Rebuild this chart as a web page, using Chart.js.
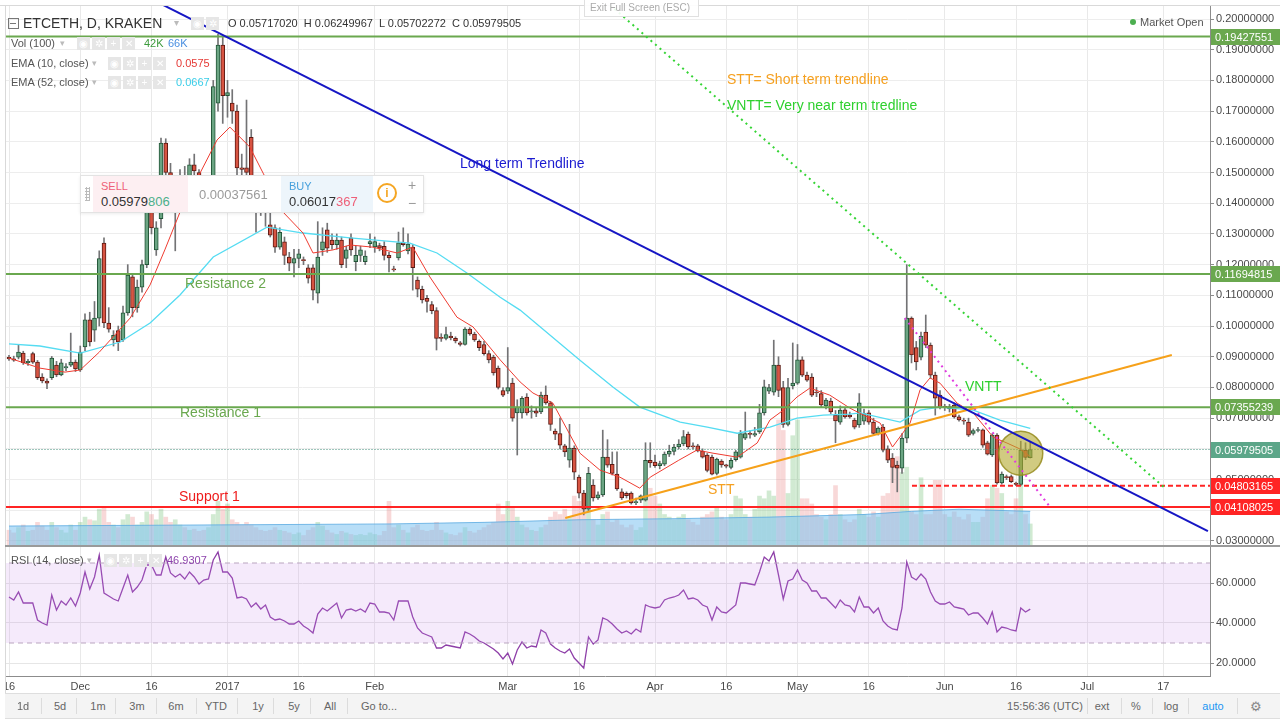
<!DOCTYPE html>
<html>
<head>
<meta charset="utf-8">
<title>ETCETH, D, KRAKEN</title>
<script src="https://cdn.jsdelivr.net/npm/chart.js@4.4.1/dist/chart.umd.min.js"></script>
<style>
  html, body { margin: 0; padding: 0; }
  body { width: 1280px; height: 720px; overflow: hidden; background: #fff; position: relative;
         font-family: "Liberation Sans", Arial, sans-serif; color: #4a4a4a; }
  canvas { position: absolute; left: 0; }
  #priceChart { top: 0; }
  #rsiChart { top: 547px; }
  .t { position: absolute; white-space: nowrap; line-height: 1; transform: translateY(-50%); }
  .ic { position: absolute; width: 13px; height: 13px; background: #e6e6e6; color: #fff; font-size: 10px;
        text-align: center; line-height: 13px; }
  .sep { position: absolute; top: 4px; width: 1px; height: 16px; background: #dcdcdc; }
  #trade { position: absolute; left: 80px; top: 175px; width: 342px; height: 36px; background: #fff;
           border: 1px solid #e3e3e3; box-shadow: 0 1px 3px rgba(0,0,0,0.08); }
  #trade div { position: absolute; }
  #toolbar { position: absolute; left: 5px; top: 693px; width: 1275px; height: 24px; background: #f4f4f4;
             border-top: 1px solid #dedede; border-bottom: 1px solid #dedede; font-size: 11px; color: #666; }
  #toolbar span.b { position: absolute; top: 12px; transform: translate(-50%, -50%); }
</style>
</head>
<body>
<canvas id="priceChart" width="1280" height="546"></canvas>
<canvas id="rsiChart" width="1280" height="146"></canvas>

<!-- frame -->
<div style="position:absolute;left:0;top:0;width:5px;height:693px;background:#fff;border-right:1px solid #d9d9d9"></div>
<div style="position:absolute;left:0;top:0;width:1280px;height:5px;background:#fff;border-bottom:1px solid #d9d9d9"></div>
<div style="position:absolute;left:5px;top:545px;width:1275px;height:2px;background:#9a9a9a"></div>

<!-- header -->
<div style="position:absolute;left:8px;top:18px;width:9px;height:9px;border:1px solid #777"></div>
<div style="position:absolute;left:10px;top:23px;width:6px;height:1px;background:#777"></div>
<div class="t" style="left:23px;top:23px;font-size:14px;color:#333">ETCETH, D, KRAKEN</div>
<div class="t" style="left:174px;top:23px;font-size:10px;color:#bbb">▾</div>
<div class="ic" style="left:191px;top:17px">◉</div>
<div class="ic" style="left:206px;top:17px">✲</div>
<div class="t" style="left:228px;top:23px;font-size:11px;color:#333">O 0.05717020&nbsp; H 0.06249967&nbsp; L 0.05702272&nbsp; C 0.05979505</div>
<div style="position:absolute;left:584px;top:-3px;width:113px;height:18px;border:1px solid #e0e0e0;background:rgba(255,255,255,0.9)"></div>
<div class="t" style="left:590px;top:8px;font-size:10px;color:#aaa">Exit Full Screen (ESC)</div>
<div style="position:absolute;left:1130px;top:19px;width:6px;height:6px;border-radius:50%;background:#4caf50"></div>
<div class="t" style="left:1140px;top:22px;font-size:11px;color:#555">Market Open</div>

<!-- study legends -->
<div class="t" style="left:11px;top:43px;font-size:11px;color:#555">Vol (100)</div>
<div class="t" style="left:60px;top:43px;font-size:9px;color:#bbb">▾</div>
<div class="ic" style="left:77px;top:37px">◉</div><div class="ic" style="left:92px;top:37px">✲</div>
<div class="ic" style="left:107px;top:37px">+</div><div class="ic" style="left:122px;top:37px">✕</div>
<div class="t" style="left:144px;top:43px;font-size:11px;color:#3c9b3c">42K</div>
<div class="t" style="left:168px;top:43px;font-size:11px;color:#4a8fe0">66K</div>

<div class="t" style="left:11px;top:63px;font-size:11px;color:#555">EMA (10, close)</div>
<div class="t" style="left:92px;top:63px;font-size:9px;color:#bbb">▾</div>
<div class="ic" style="left:108px;top:57px">◉</div><div class="ic" style="left:123px;top:57px">✲</div>
<div class="ic" style="left:138px;top:57px">+</div><div class="ic" style="left:153px;top:57px">✕</div>
<div class="t" style="left:176px;top:63px;font-size:11px;color:#e53935">0.0575</div>

<div class="t" style="left:11px;top:82px;font-size:11px;color:#555">EMA (52, close)</div>
<div class="t" style="left:92px;top:82px;font-size:9px;color:#bbb">▾</div>
<div class="ic" style="left:108px;top:76px">◉</div><div class="ic" style="left:123px;top:76px">✲</div>
<div class="ic" style="left:138px;top:76px">+</div><div class="ic" style="left:153px;top:76px">✕</div>
<div class="t" style="left:176px;top:82px;font-size:11px;color:#39cde8">0.0667</div>

<div class="t" style="left:11px;top:560px;font-size:11px;color:#555">RSI (14, close)</div>
<div class="t" style="left:87px;top:560px;font-size:9px;color:#bbb">▾</div>
<div class="ic" style="left:104px;top:554px">◉</div><div class="ic" style="left:119px;top:554px">✲</div>
<div class="ic" style="left:134px;top:554px">+</div><div class="ic" style="left:149px;top:554px">✕</div>
<div class="t" style="left:167px;top:560px;font-size:11px;color:#8e44ad">46.9307</div>

<!-- drawing labels -->
<div class="t" style="left:460px;top:163px;font-size:14px;color:#1a1ad0">Long term Trendline</div>
<div class="t" style="left:727px;top:79px;font-size:14px;color:#f5a020">STT= Short term trendline</div>
<div class="t" style="left:727px;top:105px;font-size:14px;color:#2ed02e">VNTT= Very near term tredline</div>
<div class="t" style="left:965px;top:386px;font-size:14px;color:#2ed02e">VNTT</div>
<div class="t" style="left:708px;top:489px;font-size:14px;color:#f5a020">STT</div>
<div class="t" style="left:185px;top:283px;font-size:14px;color:#6aa84f">Resistance 2</div>
<div class="t" style="left:180px;top:412px;font-size:14px;color:#6aa84f">Resistance 1</div>
<div class="t" style="left:179px;top:496px;font-size:14px;color:#ee1c1c">Support 1</div>

<!-- trade widget -->
<div id="trade">
  <div style="left:4px;top:11px;width:5px;height:14px;background-image:radial-gradient(#bbb 1px, transparent 1.2px);background-size:3px 3px"></div>
  <div style="left:12px;top:0;width:95px;height:36px;background:#fdeff2"></div>
  <div class="t" style="left:20px;top:10px;font-size:11px;color:#ee5f78">SELL</div>
  <div class="t" style="left:20px;top:25px;font-size:13px;color:#333">0.05979<span style="color:#4caf8a">806</span></div>
  <div class="t" style="left:118px;top:18px;font-size:13px;color:#9b9b9b">0.00037561</div>
  <div style="left:200px;top:0;width:92px;height:36px;background:#edf5fb"></div>
  <div class="t" style="left:208px;top:10px;font-size:11px;color:#47a0dc">BUY</div>
  <div class="t" style="left:208px;top:25px;font-size:13px;color:#333">0.06017<span style="color:#ee5f78">367</span></div>
  <div style="left:296px;top:7px;width:16px;height:16px;border:2px solid #f5a623;border-radius:50%;color:#f5a623;font-size:12px;font-weight:bold;text-align:center;line-height:16px">i</div>
  <div class="t" style="left:327px;top:9px;font-size:14px;color:#999">+</div>
  <div class="t" style="left:327px;top:27px;font-size:14px;color:#999">−</div>
</div>

<!-- bottom toolbar -->
<div id="toolbar">
  <span class="b" style="left:18px">1d</span><span class="sep" style="left:36px"></span>
  <span class="b" style="left:55px">5d</span><span class="sep" style="left:71px"></span>
  <span class="b" style="left:93px">1m</span><span class="sep" style="left:110px"></span>
  <span class="b" style="left:132px">3m</span><span class="sep" style="left:151px"></span>
  <span class="b" style="left:171px">6m</span><span class="sep" style="left:191px"></span>
  <span class="b" style="left:211px">YTD</span><span class="sep" style="left:232px"></span>
  <span class="b" style="left:253px">1y</span><span class="sep" style="left:268px"></span>
  <span class="b" style="left:289px">5y</span><span class="sep" style="left:305px"></span>
  <span class="b" style="left:325px">All</span><span class="sep" style="left:342px"></span>
  <span class="b" style="left:374px">Go to...</span>
  <span class="b" style="left:1040px">15:56:36 (UTC)</span><span class="sep" style="left:1082px"></span>
  <span class="b" style="left:1097px">ext</span><span class="sep" style="left:1116px"></span>
  <span class="b" style="left:1131px">%</span><span class="sep" style="left:1147px"></span>
  <span class="b" style="left:1166px">log</span><span class="sep" style="left:1183px"></span>
  <span class="b" style="left:1208px;color:#2196f3">auto</span><span class="sep" style="left:1232px"></span>
  <span class="b" style="left:1251px;font-size:13px;color:#888">⚙</span>
</div>

<script>
// x values are day numbers, day 0 = 16 Nov 2016
const tickDays = [0, 15, 30, 46, 61, 77, 105, 120, 136, 151, 166, 181, 197, 212, 227, 243];
const tickLabels = ['16', 'Dec', '16', '2017', '16', 'Feb', 'Mar', '16', 'Apr', '16', 'May', '16', 'Jun', '16', 'Jul', '17'];
const priceTicks = [0.03, 0.04, 0.05, 0.06, 0.07, 0.08, 0.09, 0.10, 0.11, 0.12, 0.13, 0.14, 0.15, 0.16, 0.17, 0.18, 0.19, 0.20];
const rsiTicks = [20, 40, 60];
const rsiBands = [70, 30];

// daily candles [open, high, low, close]
const ohlc = [
  [0.0898, 0.0905, 0.0888, 0.0893], [0.0893, 0.0902, 0.0885, 0.0889], [0.0899, 0.0938, 0.0893, 0.0915], [0.0912, 0.0918, 0.0875, 0.0881], [0.0881, 0.0892, 0.0872, 0.0885],
  [0.0910, 0.0915, 0.0878, 0.0882], [0.0883, 0.0888, 0.0826, 0.0832], [0.0834, 0.0845, 0.0815, 0.0821], [0.0821, 0.0828, 0.0796, 0.0814], [0.0832, 0.0901, 0.0826, 0.0896],
  [0.0873, 0.0885, 0.0835, 0.0841], [0.0841, 0.0892, 0.0838, 0.0880], [0.0864, 0.0878, 0.0855, 0.0868], [0.0873, 0.0977, 0.0868, 0.0883], [0.0883, 0.0890, 0.0852, 0.0860],
  [0.0857, 0.0935, 0.0852, 0.0915], [0.0932, 0.1040, 0.0920, 0.1020], [0.1020, 0.1045, 0.0935, 0.0948], [0.0987, 0.1080, 0.0950, 0.1026], [0.1026, 0.1245, 0.1000, 0.1220],
  [0.1270, 0.1287, 0.0995, 0.1010], [0.1010, 0.1060, 0.0980, 0.0990], [0.0955, 0.0985, 0.0935, 0.0970], [0.0985, 0.1000, 0.0920, 0.0948], [0.0955, 0.1065, 0.0950, 0.1043],
  [0.1043, 0.1200, 0.1035, 0.1166], [0.1160, 0.1170, 0.1030, 0.1060], [0.1060, 0.1150, 0.1045, 0.1127], [0.1127, 0.1215, 0.1110, 0.1200], [0.1200, 0.1420, 0.1190, 0.1378],
  [0.1378, 0.1440, 0.1300, 0.1320], [0.1248, 0.1340, 0.1230, 0.1320], [0.1350, 0.1612, 0.1320, 0.1596], [0.1596, 0.1610, 0.1480, 0.1500], [0.1500, 0.1530, 0.1380, 0.1420],
  [0.1420, 0.1480, 0.1245, 0.1450], [0.1450, 0.1510, 0.1400, 0.1480], [0.1480, 0.1520, 0.1420, 0.1460], [0.1490, 0.1545, 0.1470, 0.1525], [0.1525, 0.1560, 0.1490, 0.1505],
  [0.1500, 0.1510, 0.1440, 0.1460], [0.1460, 0.1480, 0.1420, 0.1440], [0.1440, 0.1490, 0.1400, 0.1470], [0.1470, 0.1800, 0.1460, 0.1780], [0.1726, 0.1950, 0.1700, 0.1915],
  [0.1915, 0.1940, 0.1660, 0.1750], [0.1750, 0.1800, 0.1680, 0.1760], [0.1726, 0.1770, 0.1660, 0.1700], [0.1700, 0.1720, 0.1490, 0.1515], [0.1515, 0.1560, 0.1480, 0.1510],
  [0.1515, 0.1736, 0.1480, 0.1500], [0.1615, 0.1640, 0.1440, 0.1470], [0.1470, 0.1490, 0.1306, 0.1420], [0.1420, 0.1450, 0.1360, 0.1400], [0.1400, 0.1430, 0.1325, 0.1380],
  [0.1330, 0.1390, 0.1290, 0.1296], [0.1320, 0.1330, 0.1240, 0.1257], [0.1257, 0.1320, 0.1250, 0.1305], [0.1274, 0.1290, 0.1200, 0.1230], [0.1225, 0.1240, 0.1180, 0.1205],
  [0.1205, 0.1250, 0.1160, 0.1220], [0.1220, 0.1250, 0.1190, 0.1235], [0.1215, 0.1225, 0.1200, 0.1213], [0.1190, 0.1200, 0.1140, 0.1156], [0.1190, 0.1200, 0.1085, 0.1117],
  [0.1107, 0.1340, 0.1075, 0.1225], [0.1248, 0.1320, 0.1230, 0.1274], [0.1313, 0.1335, 0.1240, 0.1254], [0.1280, 0.1300, 0.1250, 0.1265], [0.1265, 0.1300, 0.1250, 0.1280],
  [0.1280, 0.1290, 0.1190, 0.1200], [0.1220, 0.1260, 0.1190, 0.1248], [0.1287, 0.1300, 0.1230, 0.1248], [0.1210, 0.1260, 0.1180, 0.1230], [0.1230, 0.1260, 0.1210, 0.1248],
  [0.1210, 0.1245, 0.1200, 0.1228], [0.1268, 0.1300, 0.1255, 0.1275], [0.1258, 0.1290, 0.1240, 0.1275], [0.1262, 0.1270, 0.1245, 0.1254], [0.1260, 0.1275, 0.1215, 0.1230],
  [0.1230, 0.1240, 0.1176, 0.1222], [0.1185, 0.1195, 0.1178, 0.1183], [0.1222, 0.1306, 0.1215, 0.1271], [0.1271, 0.1320, 0.1260, 0.1265], [0.1245, 0.1300, 0.1235, 0.1267],
  [0.1257, 0.1265, 0.1117, 0.1190], [0.1150, 0.1160, 0.1095, 0.1120], [0.1120, 0.1130, 0.1075, 0.1085], [0.1090, 0.1100, 0.1045, 0.1080], [0.1070, 0.1080, 0.1040, 0.1050],
  [0.1050, 0.1060, 0.0922, 0.0960], [0.0962, 0.0975, 0.0950, 0.0960], [0.0960, 0.0997, 0.0955, 0.0972], [0.0967, 0.0980, 0.0955, 0.0962], [0.0960, 0.0965, 0.0945, 0.0952],
  [0.0945, 0.0950, 0.0935, 0.0940], [0.0940, 0.0995, 0.0938, 0.0990], [0.0990, 0.0995, 0.0970, 0.0974], [0.0974, 0.0980, 0.0950, 0.0955], [0.0950, 0.0955, 0.0920, 0.0930],
  [0.0940, 0.0950, 0.0905, 0.0910], [0.0910, 0.0920, 0.0880, 0.0890], [0.0899, 0.0905, 0.0840, 0.0847], [0.0863, 0.0870, 0.0795, 0.0800], [0.0790, 0.0800, 0.0770, 0.0775],
  [0.0788, 0.0930, 0.0780, 0.0800], [0.0814, 0.0830, 0.0690, 0.0700], [0.0717, 0.0760, 0.0580, 0.0736], [0.0717, 0.0770, 0.0700, 0.0765], [0.0769, 0.0780, 0.0710, 0.0717],
  [0.0720, 0.0740, 0.0700, 0.0724], [0.0724, 0.0735, 0.0705, 0.0716], [0.0720, 0.0785, 0.0715, 0.0775], [0.0775, 0.0805, 0.0745, 0.0750], [0.0750, 0.0755, 0.0660, 0.0680],
  [0.0658, 0.0665, 0.0630, 0.0648], [0.0650, 0.0700, 0.0600, 0.0612], [0.0610, 0.0615, 0.0575, 0.0590], [0.0563, 0.0680, 0.0540, 0.0603], [0.0603, 0.0610, 0.0500, 0.0524],
  [0.0508, 0.0515, 0.0440, 0.0456], [0.0456, 0.0465, 0.0385, 0.0404], [0.0404, 0.0540, 0.0395, 0.0520], [0.0482, 0.0500, 0.0430, 0.0440], [0.0440, 0.0460, 0.0435, 0.0450],
  [0.0450, 0.0661, 0.0445, 0.0573], [0.0573, 0.0630, 0.0540, 0.0547], [0.0550, 0.0590, 0.0515, 0.0520], [0.0518, 0.0590, 0.0465, 0.0470], [0.0460, 0.0470, 0.0435, 0.0440],
  [0.0455, 0.0460, 0.0440, 0.0448], [0.0456, 0.0460, 0.0420, 0.0424], [0.0425, 0.0440, 0.0418, 0.0428], [0.0433, 0.0450, 0.0425, 0.0447], [0.0433, 0.0620, 0.0430, 0.0563],
  [0.0563, 0.0620, 0.0540, 0.0554], [0.0557, 0.0580, 0.0540, 0.0545], [0.0545, 0.0560, 0.0535, 0.0552], [0.0550, 0.0590, 0.0545, 0.0583], [0.0583, 0.0612, 0.0575, 0.0592],
  [0.0592, 0.0615, 0.0580, 0.0606], [0.0606, 0.0630, 0.0600, 0.0616], [0.0616, 0.0660, 0.0610, 0.0640], [0.0648, 0.0655, 0.0600, 0.0606], [0.0610, 0.0620, 0.0600, 0.0606],
  [0.0610, 0.0615, 0.0590, 0.0593], [0.0593, 0.0600, 0.0570, 0.0573], [0.0580, 0.0585, 0.0525, 0.0530], [0.0573, 0.0580, 0.0515, 0.0518], [0.0520, 0.0570, 0.0515, 0.0567],
  [0.0560, 0.0565, 0.0540, 0.0548], [0.0548, 0.0550, 0.0538, 0.0544], [0.0540, 0.0570, 0.0535, 0.0563], [0.0565, 0.0595, 0.0560, 0.0590], [0.0573, 0.0660, 0.0570, 0.0650],
  [0.0635, 0.0720, 0.0630, 0.0650], [0.0648, 0.0660, 0.0635, 0.0647], [0.0645, 0.0670, 0.0640, 0.0650], [0.0655, 0.0745, 0.0650, 0.0717], [0.0717, 0.0824, 0.0710, 0.0802],
  [0.0788, 0.0810, 0.0780, 0.0800], [0.0785, 0.0954, 0.0775, 0.0873], [0.0873, 0.0900, 0.0770, 0.0790], [0.0800, 0.0820, 0.0670, 0.0680], [0.0680, 0.0830, 0.0675, 0.0800],
  [0.0805, 0.0945, 0.0795, 0.0814], [0.0814, 0.0940, 0.0810, 0.0890], [0.0890, 0.0900, 0.0835, 0.0840], [0.0840, 0.0850, 0.0820, 0.0824], [0.0834, 0.0845, 0.0770, 0.0775],
  [0.0785, 0.0800, 0.0770, 0.0782], [0.0780, 0.0790, 0.0735, 0.0743], [0.0740, 0.0765, 0.0730, 0.0759], [0.0756, 0.0765, 0.0715, 0.0720], [0.0710, 0.0725, 0.0620, 0.0691],
  [0.0687, 0.0740, 0.0680, 0.0726], [0.0727, 0.0735, 0.0700, 0.0704], [0.0710, 0.0720, 0.0700, 0.0704], [0.0694, 0.0700, 0.0665, 0.0671], [0.0678, 0.0780, 0.0670, 0.0750],
  [0.0690, 0.0730, 0.0680, 0.0715], [0.0717, 0.0725, 0.0680, 0.0687], [0.0687, 0.0700, 0.0645, 0.0650], [0.0650, 0.0672, 0.0645, 0.0668], [0.0671, 0.0680, 0.0590, 0.0596],
  [0.0600, 0.0610, 0.0555, 0.0563], [0.0570, 0.0585, 0.0490, 0.0540], [0.0547, 0.0560, 0.0460, 0.0537], [0.0537, 0.0650, 0.0520, 0.0635], [0.0635, 0.1200, 0.0620, 0.1026],
  [0.1026, 0.1030, 0.0880, 0.0906], [0.0930, 0.0950, 0.0857, 0.0883], [0.0899, 0.0980, 0.0890, 0.0967], [0.0980, 0.1036, 0.0930, 0.0938], [0.0938, 0.0945, 0.0830, 0.0840],
  [0.0840, 0.0850, 0.0710, 0.0765], [0.0775, 0.0790, 0.0730, 0.0736], [0.0736, 0.0745, 0.0725, 0.0735], [0.0730, 0.0745, 0.0720, 0.0738], [0.0743, 0.0750, 0.0700, 0.0704],
  [0.0704, 0.0710, 0.0690, 0.0694], [0.0694, 0.0700, 0.0680, 0.0690], [0.0687, 0.0700, 0.0640, 0.0645], [0.0650, 0.0665, 0.0645, 0.0660], [0.0660, 0.0670, 0.0655, 0.0662],
  [0.0662, 0.0665, 0.0605, 0.0612], [0.0620, 0.0625, 0.0580, 0.0583], [0.0580, 0.0650, 0.0575, 0.0645], [0.0645, 0.0650, 0.0485, 0.0489], [0.0489, 0.0525, 0.0485, 0.0518],
  [0.0510, 0.0515, 0.0500, 0.0506], [0.0510, 0.0515, 0.0490, 0.0493], [0.0489, 0.0492, 0.0480, 0.0484], [0.0484, 0.0625, 0.0480, 0.0596], [0.0596, 0.0620, 0.0565, 0.0572],
  [0.05717020, 0.06249967, 0.05702272, 0.05979505]
];

// daily volume, thousands
const volumes = [
  30, 25, 35, 40, 28, 30, 45, 38, 30, 45,
  35, 30, 25, 40, 30, 45, 55, 50, 48, 70,
  75, 45, 40, 35, 50, 60, 55, 40, 45, 65,
  60, 50, 70, 55, 45, 50, 40, 35, 30, 32,
  28, 30, 35, 60, 85, 70, 80, 50, 45, 40,
  45, 40, 35, 30, 28, 30, 35, 30, 28, 25,
  22, 25, 20, 30, 35, 45, 38, 30, 25, 22,
  28, 25, 22, 20, 22, 20, 25, 22, 20, 28,
  85, 35, 40, 30, 25, 35, 40, 30, 28, 30,
  45, 30, 25, 22, 20, 25, 35, 28, 25, 30,
  35, 40, 45, 80, 60, 85, 75, 55, 40, 35,
  30, 28, 35, 40, 55, 65, 60, 70, 55, 95,
  85, 100, 70, 50, 40, 60, 65, 45, 50, 40,
  35, 40, 30, 35, 120, 110, 95, 80, 60, 55,
  50, 55, 60, 50, 45, 40, 55, 60, 65, 75,
  55, 50, 60, 95, 90, 60, 55, 70, 95, 90,
  105, 95, 240, 220, 100, 210, 240, 90, 90, 80,
  60, 55, 50, 60, 115, 60, 50, 45, 50, 70,
  60, 55, 65, 55, 95, 100, 155, 170, 140, 150,
  65, 60, 130, 60, 60, 125, 125, 60, 55, 65,
  55, 50, 60, 45, 45, 55, 90, 115, 110, 100,
  65, 60, 90, 125, 60, 42
];
const volMaDays = [0, 40, 80, 100, 120, 140, 160, 180, 190, 200, 215];
const volMaVals = [38, 40, 42, 45, 50, 52, 55, 60, 66, 70, 66];

// EMA lines
const emaFastDays = [0, 6.5, 11.8, 15, 19, 25.5, 29.7, 32.8, 36, 43.8, 46.5, 50.7, 53.5, 57.7, 61.9, 64, 68.2, 71.8, 76.6, 81.7, 85, 88.6,
  94.3, 97.7, 103.4, 107.6, 110.3, 114.5, 120.2, 124.4, 128.6, 132.8, 135, 141, 144.8, 148.2, 153.3, 157.5, 160.2, 163, 165.9, 168.6,
  172.8, 177, 179, 183.4, 186, 189.7, 191.8, 193.9, 196, 199.6, 203, 207.2, 210.1, 212.8, 215];
const emaFastVals = [0.0896, 0.0863, 0.0850, 0.0857, 0.0915, 0.1026, 0.1134, 0.1248, 0.1371, 0.1606, 0.1648, 0.1583, 0.1498, 0.1371, 0.1303,
  0.1238, 0.1248, 0.1264, 0.1257, 0.1238, 0.1257, 0.1160, 0.1029, 0.0997, 0.0890, 0.0818, 0.0782, 0.0749, 0.0586, 0.0531, 0.0508, 0.0472,
  0.0508, 0.0563, 0.0596, 0.0586, 0.0573, 0.0619, 0.0694, 0.0726, 0.0769, 0.0798, 0.0775, 0.0733, 0.0717, 0.0684, 0.0606, 0.0684, 0.0792,
  0.0831, 0.0814, 0.0749, 0.0717, 0.0638, 0.0619, 0.0600, 0.0575];
const emaSlowDays = [0, 6.5, 15, 23.4, 29.7, 36, 43, 54.3, 61.9, 71.8, 84.4, 90.1, 96.4, 103.4, 107.6, 120.2, 127.2, 132.8, 141.3, 147,
  153.3, 160.2, 165.9, 171.4, 177, 179.2, 187.6, 191.8, 196, 203, 208.6, 215];
const emaSlowVals = [0.0942, 0.0935, 0.0912, 0.0948, 0.1010, 0.1101, 0.1225, 0.1322, 0.1303, 0.1287, 0.1270, 0.1238, 0.1173, 0.1094, 0.1052,
  0.0889, 0.0801, 0.0736, 0.0687, 0.0671, 0.0651, 0.0671, 0.0700, 0.0710, 0.0713, 0.0717, 0.0687, 0.0726, 0.0736, 0.0726, 0.0694, 0.0667];

// RSI (14), one value per day
const rsiValues = [
  53, 51.5, 55.5, 50, 50, 50, 41.5, 40, 39, 54,
  46.5, 51, 49, 52.5, 48.5, 55, 65.5, 57, 63, 74,
  55, 53.5, 52, 51, 57.5, 64, 55.5, 58, 61.5, 69,
  69, 64, 64, 73, 65, 63, 64.5, 62, 65.5, 63,
  59.5, 61.5, 62, 71.5, 75.5, 65.5, 65.5, 62.5, 52.5, 53,
  52, 48, 50, 47, 49, 43, 41.5, 42, 41, 39.5,
  39.5, 41, 38.5, 37, 35, 44.5, 47.5, 46, 48, 50,
  42.5, 46.5, 47, 46, 47, 45.5, 50, 49.5, 45.5, 45.5,
  45, 41.5, 51, 51, 51, 43, 37.5, 35, 34, 33,
  27.5, 27.5, 29, 28.5, 28, 27.5, 35.5, 34.5, 33, 31,
  30, 28.5, 27, 25, 22, 25, 19.5, 26.5, 30.5, 27.5,
  28.5, 28, 36.5, 35, 29.5, 27.5, 26, 25, 27, 22.5,
  20, 17.5, 33, 29.5, 31.5, 42.5, 41.5, 39.5, 37, 35,
  36, 34.5, 37, 35.5, 49, 48, 47.5, 48, 51.5, 52.5,
  53, 54, 56.5, 52, 52.5, 51.5, 49, 48, 41.5, 48,
  45.5, 45, 47, 49, 60, 60, 59.5, 59, 65.5, 73,
  71, 75.5, 64, 52, 61, 62, 66.5, 61.5, 60, 56,
  56, 52.5, 52.5, 50, 47.5, 51.5, 49, 48.5, 45.5, 53,
  48, 48, 45, 47.5, 41, 38.5, 37, 36.5, 47.5, 70.5,
  63, 61.5, 64.5, 62, 55.5, 51, 49.5, 49.5, 50.5, 48,
  47.5, 47, 44, 45, 45, 42.5, 39.5, 45.5, 35.5, 38,
  37.5, 36.5, 36, 47.5, 45.5, 46.93
];

// horizontal levels and drawn trend lines
const levelValues = [0.19427551, 0.11694815, 0.07355239, 0.05979505, 0.04803165, 0.04108025];
const levelFromDay = [-2, -2, -2, -2, 190.1, -2];
const longTrendDays = [32.4, 252.4], longTrendVals = [0.2046, 0.0332];
const nearTrendDays = [126.5, 243.4], nearTrendVals = [0.2046, 0.0472];
const sttDays = [117.1, 244.8], sttVals = [0.0375, 0.0906];
const vnttDays = [188.6, 219.2], vnttVals = [0.1026, 0.0410];
const circleDay = [213], circlePrice = [0.0586];

const family = '"Liberation Sans", Arial, sans-serif';
Chart.defaults.font.family = family;
Chart.defaults.font.size = 11;
Chart.defaults.color = '#4a4a4a';

const xMin = -1.895, xMax = 252.84;
const upBody = '#6ba583', downBody = '#d75442', upLine = '#225437', downLine = '#5b1a13';
const up = ohlc.map(r => r[3] >= r[0]);
const xy = (xs, ys) => xs.map((x, i) => ({ x: x, y: ys[i] }));

function lineSet(data, color, width, dash, order) {
    return { type: 'line', yAxisID: 'y', data: data, borderColor: color, borderWidth: width, borderDash: dash,
             pointRadius: 0, fill: false, tension: 0, order: order };
}

const levelStyles = [
    ['#6aa84f', 2, []], ['#6aa84f', 2, []], ['#6aa84f', 2, []],
    ['#3f8d79', 1, [1, 2]], ['#ff2424', 2, [5, 3]], ['#ff2424', 2, []]
];
const tagColors = ['#6aa84f', '#6aa84f', '#6aa84f', '#5ca689', '#ff2424', '#ff2424'];

const levelSets = levelValues.map((v, i) =>
    lineSet([{ x: levelFromDay[i], y: v }, { x: xMax, y: v }], levelStyles[i][0], levelStyles[i][1], levelStyles[i][2], 8));

// price tags on the right axis
const levelTags = {
    id: 'levelTags',
    afterDraw(chart) {
        const { ctx, chartArea } = chart;
        const y = chart.scales.y;
        ctx.save();
        ctx.font = '11px ' + family;
        ctx.textBaseline = 'middle';
        levelValues.forEach((v, i) => {
            const py = Math.round(y.getPixelForValue(v));
            ctx.fillStyle = tagColors[i];
            ctx.fillRect(chartArea.right + 1, py - 8, 70, 16);
            ctx.fillStyle = '#fff';
            ctx.fillText(v.toFixed(8), chartArea.right + 5, py + 1);
        });
        ctx.restore();
    }
};

const xTicksHook = s => { s.ticks = tickDays.map(v => ({ value: v })); };
const fitRight = s => { s.width = 70; s.paddingTop = 0; s.paddingBottom = 0; };

new Chart(document.getElementById('priceChart'), {
    type: 'bar',
    data: {
        datasets: [
            { type: 'bar', yAxisID: 'yVol', data: volumes.map((v, i) => ({ x: i, y: v })),
              backgroundColor: up.map(u => u ? 'rgba(102,187,106,0.3)' : 'rgba(229,115,115,0.28)'),
              barThickness: 4, grouped: false, order: 20 },
            { type: 'line', yAxisID: 'yVol', data: xy(volMaDays, volMaVals), borderColor: 'rgba(90,170,225,0.8)', borderWidth: 1,
              backgroundColor: 'rgba(125,195,240,0.55)', fill: 'origin', pointRadius: 0, tension: 0, order: 19 },
            { type: 'bar', yAxisID: 'y', data: ohlc.map((r, i) => ({ x: i, y: [r[2], r[1]] })),
              backgroundColor: '#737375', barThickness: 1, grouped: false, order: 13 },
            { type: 'bar', yAxisID: 'y', data: ohlc.map((r, i) => ({ x: i, y: [r[0], r[3]] })),
              backgroundColor: up.map(u => u ? upBody : downBody), borderColor: up.map(u => u ? upLine : downLine),
              borderWidth: 1, borderSkipped: false, barThickness: 4, minBarLength: 1, grouped: false, order: 12 },
            lineSet(xy(emaSlowDays, emaSlowVals), '#55dcf2', 1.3, [], 11),
            lineSet(xy(emaFastDays, emaFastVals), '#ee3b30', 1, [], 10),
            ...levelSets,
            { type: 'bubble', yAxisID: 'y', data: xy(circleDay, circlePrice), radius: 22,
              backgroundColor: 'rgba(178,168,45,0.6)', borderColor: 'rgba(150,140,30,0.85)', borderWidth: 1.5, order: 7 },
            lineSet(xy(longTrendDays, longTrendVals), '#1616c4', 2, [], 5),
            lineSet(xy(nearTrendDays, nearTrendVals), '#35d435', 2, [2, 4], 5),
            lineSet(xy(sttDays, sttVals), '#f6a11a', 2, [], 5),
            lineSet(xy(vnttDays, vnttVals), '#e03ce0', 2, [2, 4], 5)
        ]
    },
    options: {
        responsive: false,
        animation: false,
        events: [],
        layout: { autoPadding: false, padding: { top: 5, right: 0, bottom: 0, left: 0 } },
        plugins: { legend: { display: false }, tooltip: { enabled: false } },
        scales: {
            x: {
                type: 'linear', min: xMin, max: xMax, offset: false,
                grid: { color: '#e9e9e9', drawTicks: false, offset: false },
                border: { display: false },
                ticks: { display: false },
                afterBuildTicks: xTicksHook,
                afterFit: s => { s.height = 0; s.paddingLeft = 0; s.paddingRight = 0; }
            },
            y: {
                position: 'right', min: 0.02837, max: 0.20456,
                afterBuildTicks: s => { s.ticks = priceTicks.map(v => ({ value: v })); },
                afterFit: fitRight,
                grid: { color: '#ededed', tickLength: 4, tickColor: '#8c8c8c' },
                border: { color: '#8c8c8c' },
                ticks: { color: '#4a4a4a', padding: 2, font: { size: 11 }, callback: v => v.toFixed(8) }
            },
            yVol: { display: false, min: 0, max: 1030 }
        }
    },
    plugins: [levelTags]
});

new Chart(document.getElementById('rsiChart'), {
    type: 'line',
    data: {
        datasets: [
            { data: [{ x: xMin, y: rsiBands[0] }, { x: xMax, y: rsiBands[0] }], borderColor: '#b9a5bf', borderWidth: 1,
              borderDash: [5, 4], pointRadius: 0, fill: false },
            { data: [{ x: xMin, y: rsiBands[1] }, { x: xMax, y: rsiBands[1] }], borderColor: '#b9a5bf', borderWidth: 1,
              borderDash: [5, 4], pointRadius: 0, fill: '-1', backgroundColor: 'rgba(200,140,235,0.18)' },
            { data: rsiValues.map((v, i) => ({ x: i, y: v })), borderColor: '#8e3fa8', borderWidth: 1.3,
              pointRadius: 0, fill: false, tension: 0 }
        ]
    },
    options: {
        responsive: false,
        animation: false,
        events: [],
        layout: { autoPadding: false, padding: 0 },
        plugins: { legend: { display: false }, tooltip: { enabled: false } },
        scales: {
            x: {
                type: 'linear', min: xMin, max: xMax, offset: false,
                grid: { color: '#e9e9e9', drawTicks: false },
                border: { color: '#8c8c8c' },
                ticks: { color: '#4a4a4a', padding: 4, autoSkip: false, maxRotation: 0, font: { size: 11 },
                         callback: v => { const i = tickDays.indexOf(v); return i >= 0 ? tickLabels[i] : ''; } },
                afterBuildTicks: xTicksHook,
                afterFit: s => { s.height = 17; s.paddingLeft = 0; s.paddingRight = 0; }
            },
            y: {
                position: 'right', min: 13.5, max: 78,
                afterBuildTicks: s => { s.ticks = rsiTicks.map(v => ({ value: v })); },
                afterFit: fitRight,
                grid: { color: '#e6e6e6', tickLength: 4, tickColor: '#8c8c8c' },
                border: { color: '#8c8c8c' },
                ticks: { color: '#4a4a4a', padding: 2, font: { size: 11 }, callback: v => v.toFixed(4) }
            }
        }
    }
});
</script>
</body>
</html>
